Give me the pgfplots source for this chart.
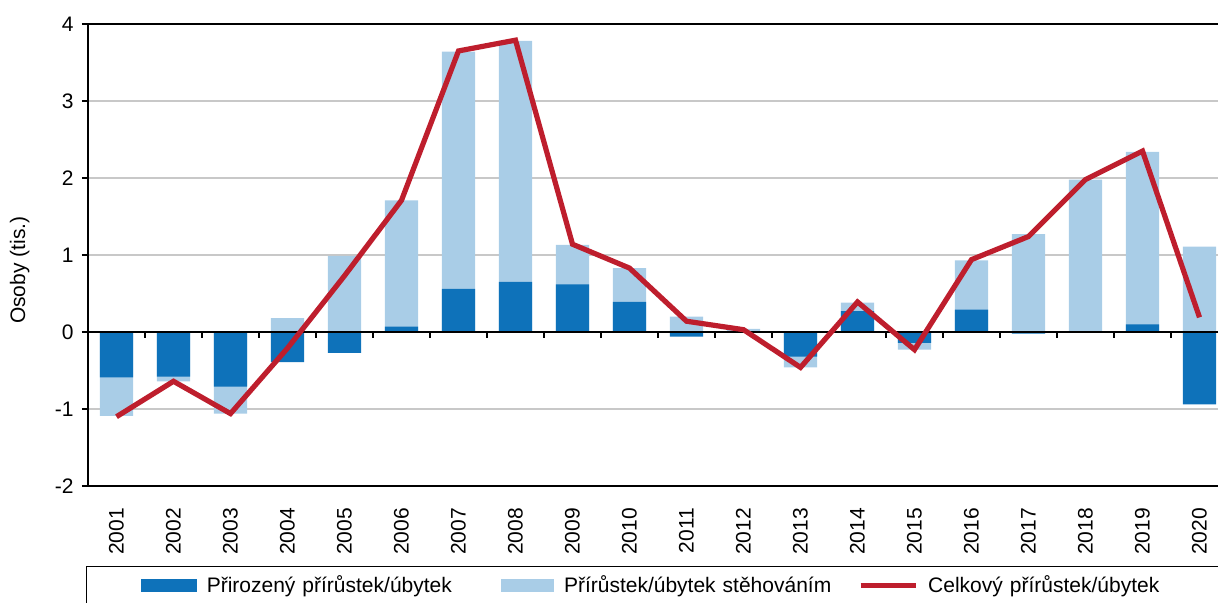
\documentclass[border=0pt]{standalone}
\usepackage{fontspec}
\setmainfont{Liberation Sans}
\usepackage{pgfplots}
\usepackage{pgfplotstable}
\pgfplotsset{compat=1.18}
\definecolor{natblue}{HTML}{0E72BA}
\definecolor{migblue}{HTML}{A9CDE7}
\definecolor{totred}{HTML}{BE1E2D}
\definecolor{gridgray}{HTML}{C8C8C8}

% idx: 0 = 2001 ... 19 = 2020; values in thousands of persons
\pgfplotstableread{
idx nat mig tot
0 -0.59 -0.50 -1.10
1 -0.58 -0.06 -0.64
2 -0.71 -0.35 -1.06
3 -0.39 0.18 -0.21
4 -0.27 0.99 0.73
5 0.07 1.64 1.71
6 0.56 3.08 3.65
7 0.65 3.13 3.79
8 0.62 0.51 1.14
9 0.39 0.44 0.83
10 -0.06 0.20 0.14
11 -0.01 0.04 0.03
12 -0.32 -0.14 -0.46
13 0.27 0.11 0.39
14 -0.14 -0.09 -0.23
15 0.29 0.64 0.94
16 -0.02 1.27 1.24
17 0.00 1.98 1.98
18 0.10 2.24 2.35
19 -0.94 1.11 0.19
}\popdata

\begin{document}
\begin{tikzpicture}[font=\fontsize{10.5}{12.6}\selectfont]
\begin{axis}[
  name=ax, at={(0,0)}, anchor=south west,
  scale only axis, width=570pt, height=231pt,
  xmin=-0.5, xmax=19.5, ymin=-2, ymax=4,
  xtick={0,...,19},
  xticklabels={2001,2002,2003,2004,2005,2006,2007,2008,2009,2010,
               2011,2012,2013,2014,2015,2016,2017,2018,2019,2020},
  xtick style={draw=none},
  xticklabel style={rotate=90, anchor=east, inner ysep=0pt, inner xsep=7.8pt},
  ytick={-2,-1,0,1,2,3,4},
  ytick pos=left, tick align=outside, major tick length=3pt,
  ytick style={black, line width=1pt},
  yticklabel style={inner xsep=4pt},
  /pgf/number format/assume math mode=true,
  ymajorgrids, grid style={gridgray, line width=0.6pt},
  axis line style={black, line width=1pt},
  ylabel={Osoby (tis.)},
  ylabel style={at={(axis description cs:-0.06,0.467)}, anchor=center, rotate=0},
  legend columns=3,
  legend cell align=left,
  legend style={at={(axis description cs:0,0)}, anchor=north west,
    xshift=-1pt, yshift=-40pt, draw=black, line width=0.6pt,
    inner xsep=27pt, inner ysep=2.5pt,
    nodes={text width=142pt, inner xsep=5pt}},
]
\addlegendimage{legend image code/.code={\fill[natblue] (0pt,-2.75pt) rectangle (27.5pt,2.75pt);}}
\addlegendentry{Přirozený přírůstek/úbytek}
\addlegendimage{legend image code/.code={\fill[migblue] (0pt,-2.75pt) rectangle (26pt,2.75pt);}}
\addlegendentry{Přírůstek/úbytek stěhováním}
\addlegendimage{legend image code/.code={\draw[totred, line width=2.6pt] (0pt,0pt) -- (27.5pt,0pt);}}
\addlegendentry{Celkový přírůstek/úbytek}

% migration bar: stacked on top of natural change when both have the same sign
\addplot[forget plot, ybar, bar width=0.58, bar shift=0pt, fill=migblue, draw=none]
  table[x=idx, y expr={ifthenelse((\thisrow{nat})*(\thisrow{mig})>0,
        \thisrow{nat}+\thisrow{mig}, \thisrow{mig})}] {\popdata};
\addplot[forget plot, ybar, bar width=0.58, bar shift=0pt, fill=natblue, draw=none]
  table[x=idx, y=nat] {\popdata};

\draw[black, line width=1pt] (axis cs:-0.5,0) -- (axis cs:19.5,0);
\pgfplotsinvokeforeach{0,...,18}{
  \draw[black, line width=1pt] (axis cs:#1.5,0) -- ++(0pt,-3pt);
}

\addplot[forget plot, totred, line width=2.6pt, mark=none]
  table[x=idx, y=tot] {\popdata};
\end{axis}
\pgfresetboundingbox
\useasboundingbox ([shift={(-44pt,-58.5pt)}]ax.south west) rectangle ([shift={(565pt,243pt)}]ax.south west);
\end{tikzpicture}
\end{document}
